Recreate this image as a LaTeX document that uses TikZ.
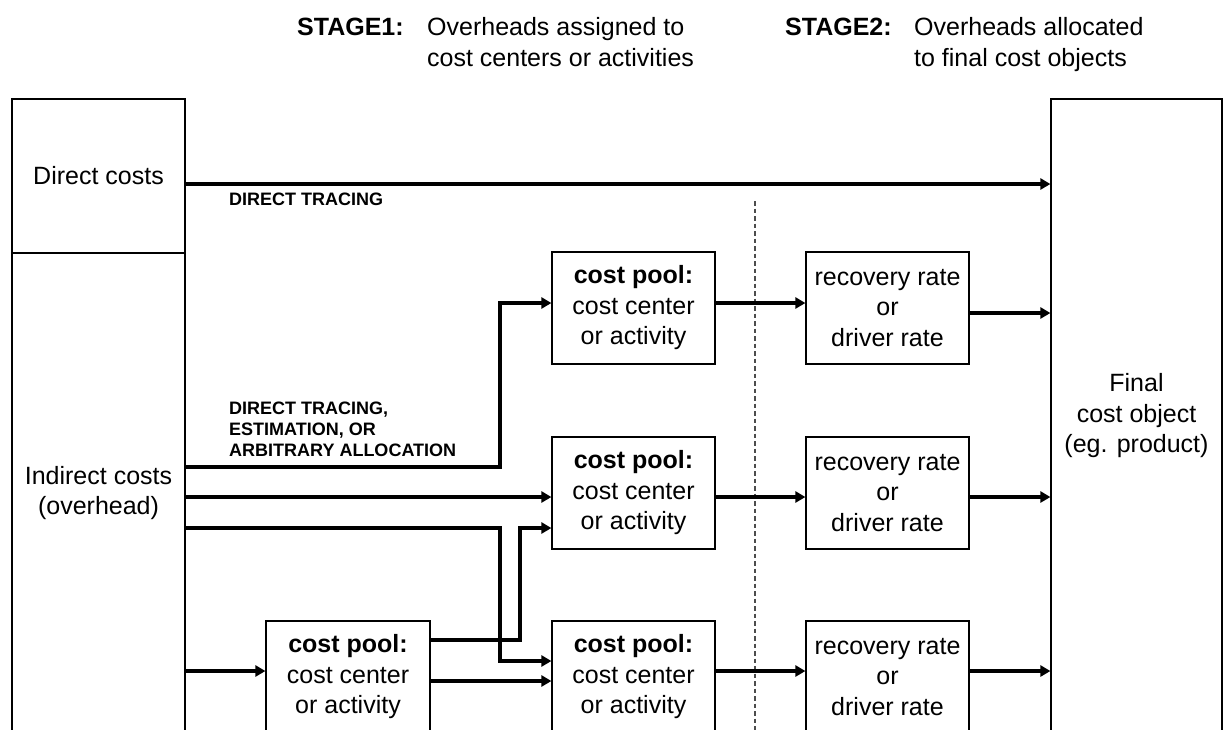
\documentclass[tikz,border=0pt]{standalone}
\usepackage{fontspec}
\setmainfont{Liberation Sans}
\usetikzlibrary{arrows.meta}
\begin{document}
\begin{tikzpicture}[x=1pt,y=-1pt,
  box/.style={draw=black, line width=1.2pt, inner sep=0pt, align=center,
              font=\fontsize{25}{30.5}\selectfont},
  pool/.style={box, minimum width=163pt, minimum height=112pt},
  flow/.style={line width=3.4pt, -{Triangle[length=10pt,width=11pt]}},
  lbl/.style={font=\bfseries\fontsize{18}{21}\selectfont, align=left, inner sep=0pt},
  head/.style={font=\fontsize{25}{31}\selectfont, align=left, inner sep=0pt}]
\useasboundingbox (0,0) rectangle (1223,729);
\clip (0,0) rectangle (1223,729);

% stage headings
\node[head, anchor=base west] (st1) at (297,35) {\textbf{STAGE1:}};
\node[head, anchor=north west] (st1t) at (427,17) {Overheads assigned to\\cost centers or activities};
\node[head, anchor=base west] (st2) at (785,35) {\textbf{STAGE2:}};
\node[head, anchor=north west] (st2t) at (914,17) {Overheads allocated\\to final cost objects};

% cost sources
\node[box, minimum width=173pt, minimum height=154pt] (direct) at (98.5,176) {Direct costs};
\node[box, minimum width=173pt, minimum height=480pt] (indirect) at (98.5,493) {Indirect costs\\(overhead)};

% final cost object
\node[box, minimum width=171pt, minimum height=634pt] (final) at (1136.5,416) {Final\\cost object\\(eg. product)};

% cost pools
\node[pool] (pool1) at (633.5,308) {\textbf{cost pool:}\\cost center\\or activity};
\node[pool] (pool2) at (633.5,493) {\textbf{cost pool:}\\cost center\\or activity};
\node[pool] (pool3) at (633.5,677) {\textbf{cost pool:}\\cost center\\or activity};
\node[pool, minimum width=164pt] (pool0) at (348,677) {\textbf{cost pool:}\\cost center\\or activity};

% recovery / driver rates
\node[pool] (rec1) at (887.5,308) {recovery rate\\or\\driver rate};
\node[pool] (rec2) at (887.5,493) {recovery rate\\or\\driver rate};
\node[pool] (rec3) at (887.5,677) {recovery rate\\or\\driver rate};

% stage divider
\draw[line width=1.3pt, dash pattern=on 4.5pt off 3pt, black!70] (755,201) -- (755,740);

% direct tracing
\path ([yshift=-8pt]direct.east) coordinate (d0);
\draw[flow] (d0) -- (d0 -| final.west);
\node[lbl, anchor=base west] (dtl) at (229,205.5) {DIRECT TRACING};

% overhead flows into cost pools
\coordinate (ind1) at (185,467);
\coordinate (ind2) at (185,497);
\coordinate (ind3) at (185,528);
\coordinate (ind4) at (185,671);
\node[lbl, anchor=north west] (alloc) at (229,402) {DIRECT TRACING,\\ESTIMATION, OR\\ARBITRARY ALLOCATION};

\draw[flow] (ind1) -- (500,467) |- ([yshift=5pt]pool1.west);
\draw[flow] (ind2) -- ([yshift=-4pt]pool2.west);
\draw[flow] (ind3) -- (500,528) |- ([yshift=16pt]pool3.west);
\draw[flow] (ind4) -- ([yshift=6pt]pool0.west);

% secondary pool redistributed
\draw[flow] ([yshift=37pt]pool0.east) -- (520,640) |- ([yshift=-35pt]pool2.west);
\draw[flow] ([yshift=-4pt]pool0.east) -- ([yshift=-4pt]pool3.west);

% pools to rates
\draw[flow] ([yshift=5pt]pool1.east) -- ([yshift=5pt]rec1.west);
\draw[flow] ([yshift=-4pt]pool2.east) -- ([yshift=-4pt]rec2.west);
\draw[flow] ([yshift=6pt]pool3.east) -- ([yshift=6pt]rec3.west);

% rates to final cost object
\path ([yshift=-5pt]rec1.east) coordinate (o1)
      ([yshift=-4pt]rec2.east) coordinate (o2)
      ([yshift=6pt]rec3.east) coordinate (o3);
\draw[flow] (o1) -- (o1 -| final.west);
\draw[flow] (o2) -- (o2 -| final.west);
\draw[flow] (o3) -- (o3 -| final.west);
\end{tikzpicture}
\end{document}
